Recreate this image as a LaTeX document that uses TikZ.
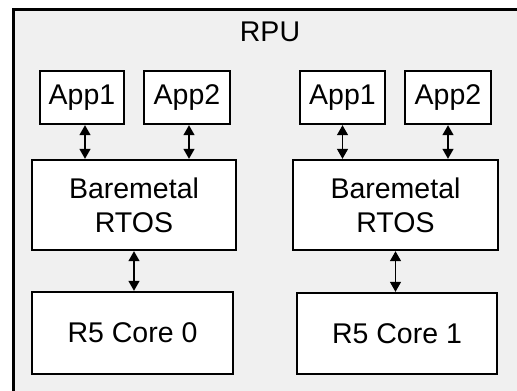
\documentclass[tikz,border=0pt]{standalone}
\usepackage{fontspec}
\setmainfont{Liberation Sans}
\usetikzlibrary{arrows.meta}
\definecolor{rpugray}{HTML}{F0F0F0}
\tikzset{
  box/.style={draw, fill=white, line width=2.4pt, inner sep=0pt, align=center,
    font=\fontsize{28.5}{34}\selectfont},
  link/.style={{Triangle[length=10pt,width=11pt]}-{Triangle[length=10pt,width=11pt]}, line width=1.4pt}
}
\begin{document}
\begin{tikzpicture}[x=1pt,y=1pt]
  \useasboundingbox (0,0) rectangle (517,-391);
  % Rahmen RPU
  \draw[fill=rpugray, line width=3pt] (13,-9.5) rectangle (540,-410);
  \node[font=\fontsize{28.5}{30}\selectfont] (rpu) at (270,-32) {RPU};
  % linke Seite
  \node[box, minimum width=84pt, minimum height=53pt] (lapp1) at (82,-97.5) {App1};
  \node[box, minimum width=86pt, minimum height=53pt] (lapp2) at (187,-97.5) {App2};
  \node[box, minimum width=204pt, minimum height=90pt] (lrtos) at (134,-205) {Baremetal\\RTOS};
  \node[box, minimum width=201pt, minimum height=82pt] (lcore) at (132.5,-333) {R5 Core 0};
  % rechte Seite
  \node[box, minimum width=85pt, minimum height=53pt] (rapp1) at (342.5,-97.5) {App1};
  \node[box, minimum width=86pt, minimum height=53pt] (rapp2) at (448,-97.5) {App2};
  \node[box, minimum width=205pt, minimum height=90pt] (rrtos) at (395.5,-205) {Baremetal\\RTOS};
  \node[box, minimum width=200pt, minimum height=81pt] (rcore) at (397,-333.5) {R5 Core 1};
  % Pfeile
  \draw[link] ([xshift=3pt]lapp1.south) -- ([xshift=3pt]lapp1.south |- lrtos.north);
  \draw[link] ([xshift=2pt]lapp2.south) -- ([xshift=2pt]lapp2.south |- lrtos.north);
  \draw[link] (lrtos.south) -- (lrtos.south |- lcore.north);
  \draw[link] (rapp1.south) -- (rapp1.south |- rrtos.north);
  \draw[link] (rapp2.south) -- (rapp2.south |- rrtos.north);
  \draw[link] (rrtos.south) -- (rrtos.south |- rcore.north);
\end{tikzpicture}
\end{document}
